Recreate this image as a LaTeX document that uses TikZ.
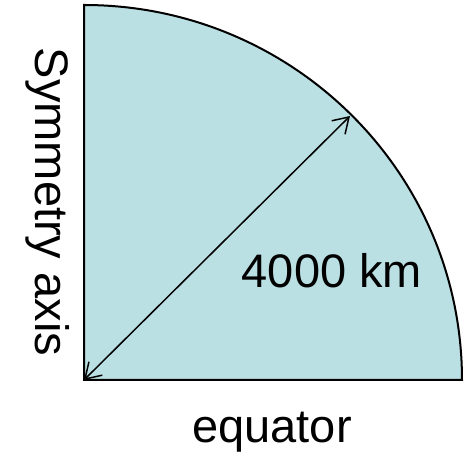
\documentclass[tikz,border=0pt]{standalone}
\usepackage{fontspec}
\setmainfont{Liberation Sans}
\usetikzlibrary{arrows.meta}
\definecolor{diskblue}{RGB}{187,224,227}

\begin{document}
\begin{tikzpicture}[
    x=1pt, y=1pt,
    disk/.style={draw, line width=2pt, fill=diskblue},
    arr/.style={{Straight Barb[length=15pt,width=19pt]}-{Straight Barb[length=15pt,width=19pt]}, line width=1.5pt},
    lbl/.style={font=\fontsize{47}{50}\selectfont, inner sep=0pt}
]
\useasboundingbox (0,0) rectangle (464,454);
\coordinate (ctr) at (84,74);
\coordinate (top) at (84,449);
\coordinate (rim) at (350,338);

\draw[disk] (ctr) -- (top) arc[start angle=90, end angle=0, x radius=378, y radius=375] -- cycle;
\draw[arr] (ctr) -- (rim);

\node[lbl] (radius) at (332,183) {4000 km};
\node[lbl, anchor=base] (eq) at (272,11) {equator};
\node[lbl, rotate=-90] (axis) at (48,252) {Symmetry axis};
\end{tikzpicture}
\end{document}
